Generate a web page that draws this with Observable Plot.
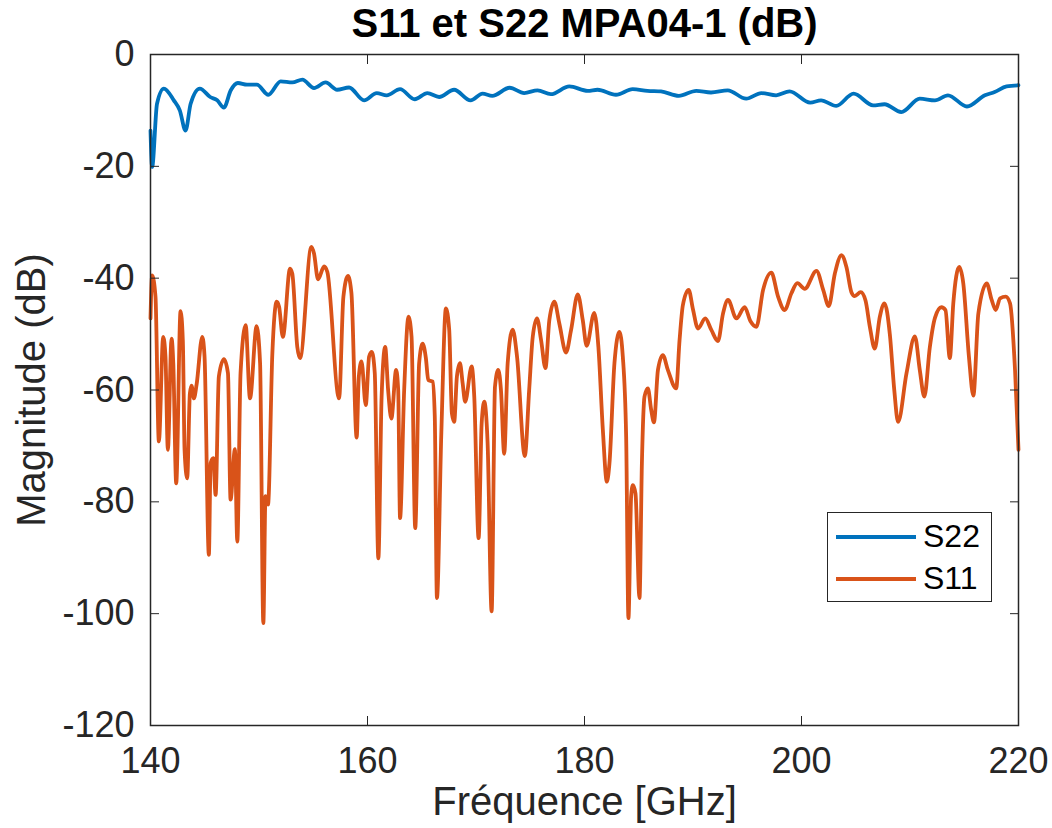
<!DOCTYPE html>
<html>
<head>
<meta charset="utf-8">
<script src="https://cdn.jsdelivr.net/npm/d3@7"></script>
<script src="https://cdn.jsdelivr.net/npm/@observablehq/plot@0.6"></script>
<style>
  body { margin: 0; background: #fff; font-family: "Liberation Sans", Arial, sans-serif; }
  #wrap { position: relative; width: 1052px; height: 828px; }
  #legend { position: absolute; left: 827px; top: 512px; width: 165px; height: 90px; box-sizing: border-box;
            border: 1.5px solid #262626; background: #fff; }
  .lg-line { position: absolute; left: 8px; width: 80px; height: 4px; }
  .lg-text { position: absolute; left: 95px; font-size: 32px; line-height: 32px; color: #000; }
</style>
</head>
<body>
<div id="wrap"></div>
<script>
// ---------- data ----------
const chartTitle = "S11 et S22 MPA04-1 (dB)";
const xLabel = "Fréquence [GHz]";
const yLabel = "Magnitude (dB)";
const xTicks = [140, 160, 180, 200, 220];
const yTicks = [0, -20, -40, -60, -80, -100, -120];
const seriesNames = ["S22", "S11"];
const seriesColors = ["#0072BD", "#D95319"];

const s22Freq = [140.0,140.15,140.6,141.23,142.15,142.7,143.23,143.7,144.55,145.5,146.15,146.76,147.4,148.05,148.9,149.8,150.86,152.0,153.07,154.0,155.07,156.14,157.2,158.3,159.68,160.85,161.77,163.0,164.35,165.52,166.6,167.98,169.5,170.6,171.5,173.1,174.44,175.67,176.9,178.6,180.3,181.2,182.9,184.44,185.8,187.05,188.7,190.3,191.66,193.2,194.9,196.3,197.66,198.9,200.8,201.8,203.2,204.8,206.6,207.65,209.2,210.9,212.3,213.5,215.25,216.9,217.8,218.9,220.0];
const s22Mag = [-13.6,-20.1,-8.8,-6.1,-8.2,-10,-13.6,-8.8,-6.1,-7.6,-8.2,-9.5,-6.4,-5.1,-5.4,-5.4,-7.2,-4.8,-5.0,-4.5,-6.0,-5.0,-6.3,-5.9,-8.2,-6.9,-7.3,-6.2,-8.0,-6.9,-7.6,-6.3,-8.2,-7.0,-7.4,-5.95,-6.9,-6.4,-7.1,-5.7,-6.5,-6.3,-7.2,-6.2,-6.5,-6.6,-7.4,-6.5,-6.8,-6.4,-7.9,-6.9,-7.3,-6.6,-8.6,-8.2,-9.2,-7.0,-9.1,-8.9,-10.3,-7.9,-8.2,-7.3,-9.3,-7.3,-6.7,-5.7,-5.5];

const s11Freq = [140.0,140.15,140.46,140.77,141.17,141.38,141.6,141.94,142.1,142.37,142.77,142.98,143.14,143.38,143.63,143.78,144.0,144.25,144.77,144.98,145.38,145.54,145.79,146.0,146.3,146.77,147.14,147.38,147.78,148.0,148.3,148.77,149.17,149.78,150.1,150.4,150.6,150.83,151.23,151.63,151.85,152.2,152.86,153.07,153.53,153.78,154.83,155.07,155.44,156.0,156.3,157.38,157.78,158.2,158.52,159.0,159.2,159.45,159.84,160.15,160.4,160.67,161.0,161.3,161.63,161.9,162.2,162.64,162.83,163.0,163.38,163.78,164.06,164.4,164.76,165.08,165.38,165.6,166.0,166.2,166.4,166.8,167.23,167.53,167.78,167.99,168.24,168.52,168.77,169.0,169.6,169.84,170.24,170.52,170.76,171.07,171.44,171.75,172.05,172.3,172.6,172.92,173.38,173.78,174.5,174.9,175.23,175.62,176.0,176.4,176.76,177.22,177.68,178.3,178.76,179.38,179.84,180.2,180.9,181.28,181.69,182.06,182.3,182.76,183.22,183.53,183.84,184.05,184.3,184.46,184.7,185.07,185.29,185.53,185.84,186.15,186.4,186.77,187.22,187.68,188.45,188.76,189.07,189.6,190.0,190.46,191.13,191.7,192.3,192.77,193.23,194.0,194.76,195.3,195.84,196.46,197.22,197.84,198.45,199.07,199.62,200.3,201.38,202.0,202.51,203.07,203.68,204.14,204.6,204.9,205.46,205.9,206.3,206.75,207.22,207.65,208.14,208.55,208.9,209.68,210.45,210.9,211.32,211.83,212.3,212.9,213.27,213.67,213.99,214.54,214.91,215.43,215.84,216.3,217.07,217.53,217.9,218.3,218.82,219.22,219.68,220.0];
const s11Mag = [-47.2,-39.5,-43.3,-69.2,-50.5,-54.0,-70.7,-50.8,-55.2,-76.7,-45.9,-51.1,-70.7,-75.8,-60.6,-59.2,-61.5,-59.0,-50.5,-54.0,-89.5,-73.1,-72.2,-78.75,-57.6,-54.5,-57.0,-79.6,-70.6,-87.1,-57.0,-48.4,-61.5,-48.6,-55.2,-101.7,-79.0,-80.5,-53.5,-44.2,-45.1,-50.5,-38.3,-39.2,-52.3,-54.3,-34.4,-35.6,-40.2,-37.9,-38.9,-61.5,-43.3,-39.6,-42.7,-68.5,-57.6,-54.9,-62.7,-54.0,-53.2,-57.0,-90.1,-61.2,-52.3,-60.0,-65.1,-56.4,-60,-82.9,-60,-46.9,-50.5,-84.7,-55.2,-51.7,-54.3,-58.2,-58.5,-64.7,-97.2,-68,-45.4,-49.2,-64.2,-65.7,-57.6,-55.2,-58.8,-62.1,-55.8,-61.2,-86.5,-66.0,-62.1,-69.5,-99.6,-59.4,-56.4,-60,-71.4,-55.2,-49.2,-54.0,-71.8,-60,-50.5,-47.2,-51.1,-56.1,-47.5,-44.2,-48.1,-53.3,-49.3,-42.9,-47.5,-52.1,-46.2,-52.3,-67.1,-76.4,-73.1,-55.2,-49.6,-54.0,-68.4,-100.8,-79.0,-77.0,-78.5,-97.2,-73.1,-61.2,-59.7,-63.6,-65.8,-56.4,-53.75,-56.4,-59.7,-51.1,-44.8,-42.1,-45.6,-49.0,-47.2,-49.3,-51.25,-46.3,-43.9,-47.2,-45.2,-47.7,-48.7,-42.1,-39.0,-43.3,-45.7,-42.7,-40.9,-41.9,-38.7,-42.1,-45.0,-39.2,-35.9,-38.0,-42.5,-43.2,-42.5,-44.0,-48.7,-52.6,-46.9,-44.5,-50,-60,-65.7,-57.0,-50.4,-56.4,-61.2,-52.3,-47.1,-45.2,-45.7,-54.3,-44.5,-38.0,-40.9,-54.0,-61.0,-46.3,-40.95,-43.9,-45.7,-43.6,-43.3,-44.5,-56.4,-70.7];

// ---------- build tables ----------
const s22 = s22Freq.map((f, i) => ({f, m: s22Mag[i]}));
const s11 = s11Freq.map((f, i) => ({f, m: s11Mag[i]}));
const axisColor = "#262626";
const fmt = d => String(d);

const plot = Plot.plot({
  width: 1052,
  height: 828,
  marginLeft: 150,
  marginRight: 34,
  marginTop: 54,
  marginBottom: 103,
  style: {fontFamily: "'Liberation Sans', Arial, sans-serif", fontSize: "36px", color: axisColor, background: "#fff"},
  x: {domain: [140, 220]},
  y: {domain: [-120, 0]},
  marks: [
    Plot.line(s22, {x: "f", y: "m", stroke: seriesColors[0], strokeWidth: 3.8, curve: "monotone-x"}),
    Plot.line(s11, {x: "f", y: "m", stroke: seriesColors[1], strokeWidth: 3.8, curve: "monotone-x"}),
    Plot.axisX({anchor: "bottom", ticks: xTicks, tickSize: -9, tickPadding: 31, tickFormat: fmt, label: null, stroke: axisColor, fill: axisColor}),
    Plot.axisX({anchor: "top", ticks: xTicks, tickSize: -9, tickFormat: () => "", label: null, stroke: axisColor}),
    Plot.axisY({anchor: "left", ticks: yTicks, tickSize: -9, tickPadding: 25, tickFormat: fmt, label: null, stroke: axisColor, fill: axisColor}),
    Plot.axisY({anchor: "right", ticks: yTicks, tickSize: -9, tickFormat: () => "", label: null, stroke: axisColor}),
    Plot.frame({stroke: axisColor, strokeWidth: 1.5}),
    Plot.text([chartTitle], {text: d => d, frameAnchor: "top", lineAnchor: "top", dy: -46, fontSize: 40, fontWeight: "bold", fill: "#000"}),
    Plot.text([xLabel], {text: d => d, frameAnchor: "bottom", lineAnchor: "middle", dy: 77, fontSize: 40, fill: axisColor}),
    Plot.text([yLabel], {text: d => d, frameAnchor: "left", textAnchor: "middle", lineAnchor: "middle", rotate: -90, dx: -118, fontSize: 40, fill: axisColor})
  ]
});

const wrap = document.getElementById("wrap");
wrap.appendChild(plot);

// legend (HTML overlay)
const legend = document.createElement("div");
legend.id = "legend";
seriesNames.forEach((name, i) => {
  const line = document.createElement("div");
  line.className = "lg-line";
  line.style.top = (22 + i * 42) + "px";
  line.style.background = seriesColors[i];
  const txt = document.createElement("div");
  txt.className = "lg-text";
  txt.style.top = (7 + i * 42) + "px";
  txt.textContent = name;
  legend.appendChild(line);
  legend.appendChild(txt);
});
wrap.appendChild(legend);
</script>
</body>
</html>
